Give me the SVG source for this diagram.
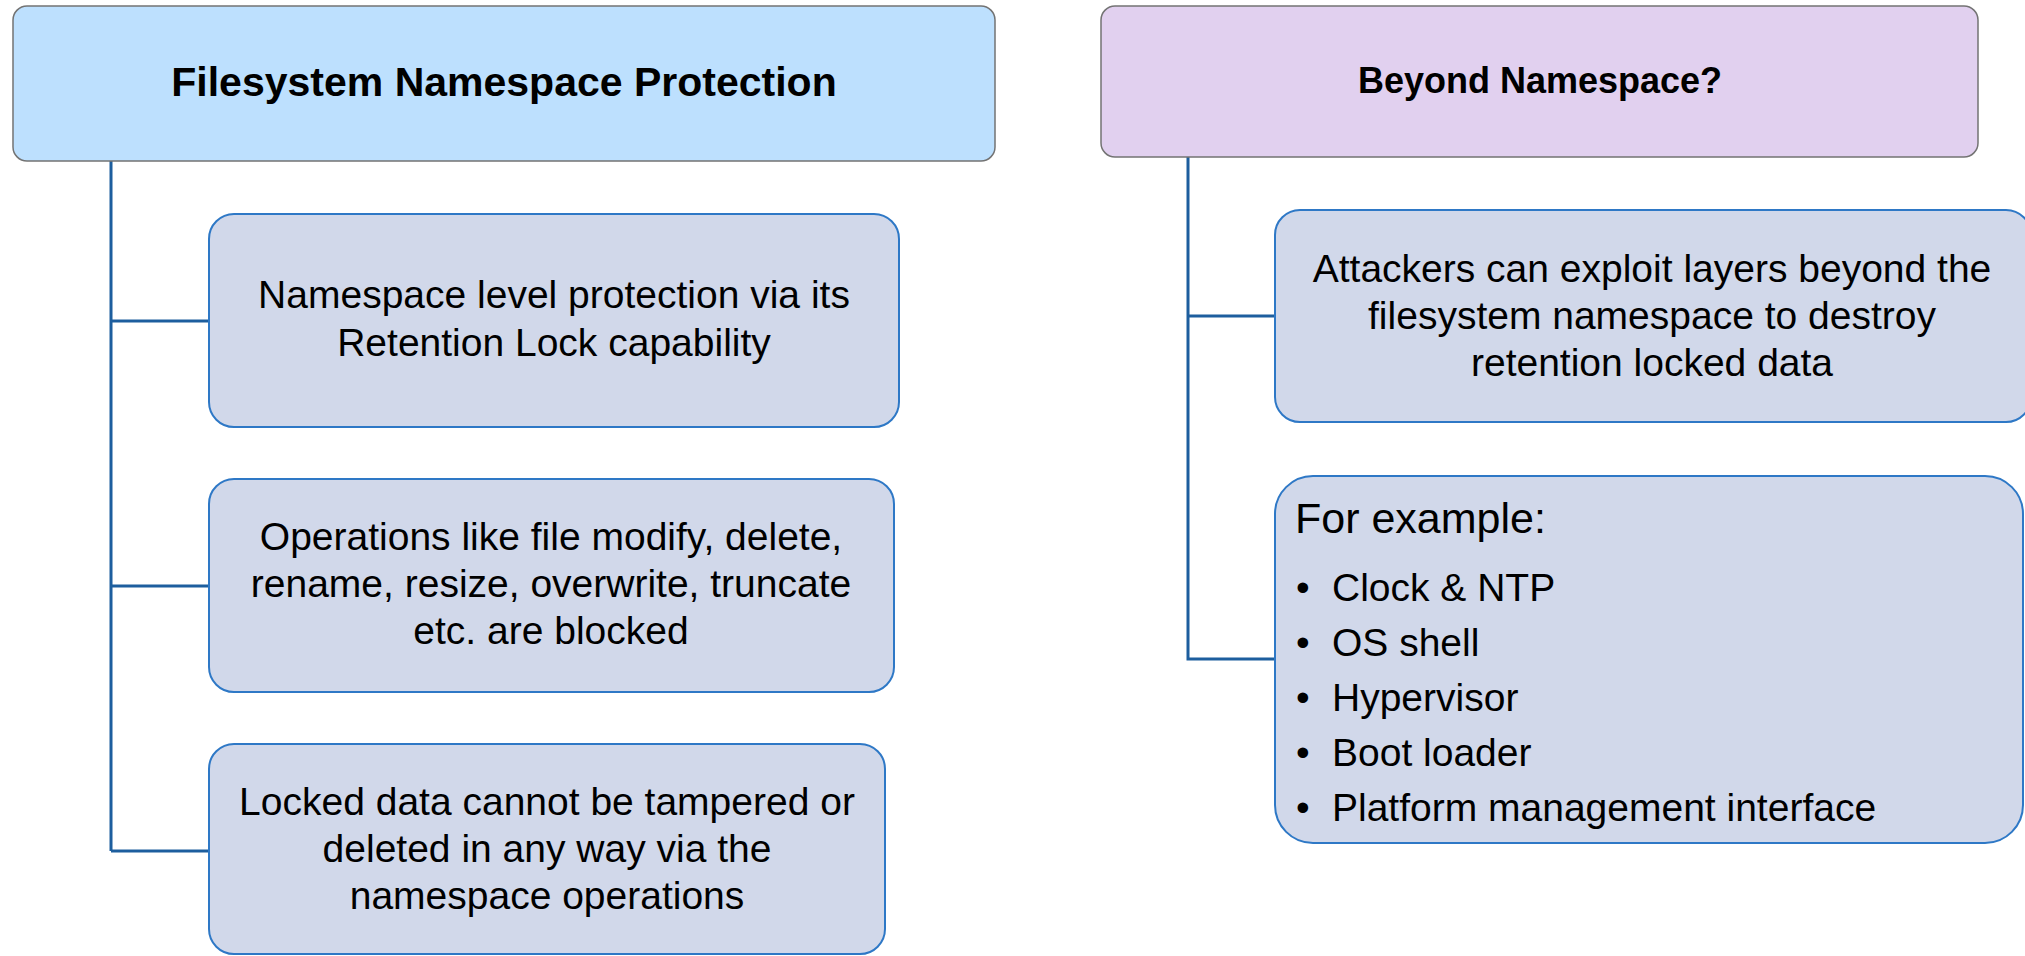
<svg xmlns="http://www.w3.org/2000/svg" width="2025" height="956" viewBox="0 0 2025 956">
<style>
.title-l{fill:#BDE0FE;stroke:#737373;stroke-width:1.5}
.title-r{fill:#E1D0EF;stroke:#737373;stroke-width:1.5}
.child{fill:#D1D8EA;stroke:#2E78C6;stroke-width:2}
.conn{fill:none;stroke:#1D5E9E;stroke-width:3}
text{font-family:"Liberation Sans",Arial,sans-serif;fill:#000}
.h{font-weight:bold}
.b{font-size:39px;text-anchor:middle}
.li{font-size:39px}
</style>
<rect width="2025" height="956" fill="#fff"/>
<g id="connectors">
<path class="conn" d="M111,161 V851"/>
<path class="conn" d="M111,321 H209"/>
<path class="conn" d="M111,586 H209"/>
<path class="conn" d="M111,851 H209"/>
<path class="conn" d="M1188,157 V659 H1275"/>
<path class="conn" d="M1188,316 H1275"/>
</g>
<g id="title-left">
<rect class="title-l" x="13" y="6" width="982" height="155" rx="14"/>
<text class="h" x="504" y="96" font-size="41" text-anchor="middle">Filesystem Namespace Protection</text>
</g>
<g id="left-1">
<rect class="child" x="209" y="214" width="690" height="213" rx="25"/>
<text class="b" x="554" y="308">Namespace level protection via its</text>
<text class="b" x="554" y="356">Retention Lock capability</text>
</g>
<g id="left-2">
<rect class="child" x="209" y="479" width="685" height="213" rx="25"/>
<text class="b" x="551" y="550">Operations like file modify, delete,</text>
<text class="b" x="551" y="597">rename, resize, overwrite, truncate</text>
<text class="b" x="551" y="644">etc. are blocked</text>
</g>
<g id="left-3">
<rect class="child" x="209" y="744" width="676" height="210" rx="25"/>
<text class="b" x="547" y="815">Locked data cannot be tampered or</text>
<text class="b" x="547" y="862">deleted in any way via the</text>
<text class="b" x="547" y="909">namespace operations</text>
</g>
<g id="title-right">
<rect class="title-r" x="1101" y="6" width="877" height="151" rx="14"/>
<text class="h" x="1540" y="93" font-size="36" text-anchor="middle">Beyond Namespace?</text>
</g>
<g id="right-1">
<rect class="child" x="1275" y="210" width="756" height="212" rx="25"/>
<text class="b" x="1652" y="282">Attackers can exploit layers beyond the</text>
<text class="b" x="1652" y="329">filesystem namespace to destroy</text>
<text class="b" x="1652" y="376">retention locked data</text>
</g>
<g id="right-2">
<rect class="child" x="1275" y="476" width="748" height="367" rx="38"/>
<text x="1295" y="533" font-size="43">For example:</text>
<g class="li">
<text x="1296" y="601">•</text><text x="1332" y="601">Clock &amp; NTP</text>
<text x="1296" y="656">•</text><text x="1332" y="656">OS shell</text>
<text x="1296" y="711">•</text><text x="1332" y="711">Hypervisor</text>
<text x="1296" y="766">•</text><text x="1332" y="766">Boot loader</text>
<text x="1296" y="821">•</text><text x="1332" y="821">Platform management interface</text>
</g>
</g>
</svg>
